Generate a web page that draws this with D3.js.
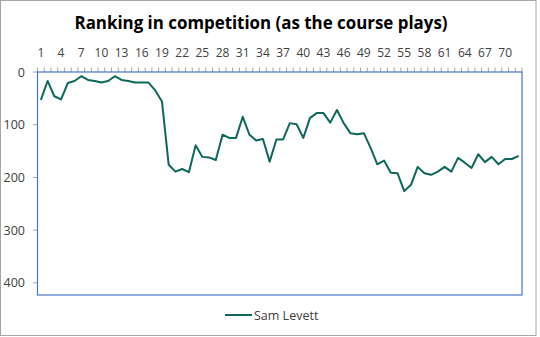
<!DOCTYPE html>
<html>
<head>
<meta charset="utf-8">
<script src="https://cdn.jsdelivr.net/npm/d3@7"></script>
<style>
  html, body { margin: 0; padding: 0; background: #fff; }
  svg { display: block; font-family: "Open Sans", "Noto Sans", sans-serif; }
</style>
</head>
<body>
<svg id="chart" width="540" height="337"></svg>
<script>
// Round-by-round ranking for one player (lower = better)
const holes = d3.range(1, 73);
const ranking = [
  53, 17, 46, 52, 21, 17, 8, 15, 17, 20,
  17, 8, 15, 17, 20, 20, 20, 35, 56, 176,
  189, 184, 190, 139, 161, 162, 167, 119, 125, 125,
  85, 119, 130, 127, 170, 128, 128, 97, 99, 125,
  87, 78, 78, 96, 72, 97, 116, 118, 116, 144,
  175, 168, 191, 192, 226, 214, 180, 192, 195, 189,
  180, 189, 163, 172, 182, 156, 171, 161, 175, 165,
  165, 159
];
const xTickLabels = d3.range(1, 71, 3);
const yTicks = [0, 100, 200, 300, 400];
const yMax = 423;
const seriesName = "Sam Levett";
const titleText = "Ranking in competition (as the course plays)";

const svg = d3.select("#chart");
const plot = { left: 37.5, right: 522, top: 72, bottom: 295 };
const lineColor = "#0d675b";
const frameColor = "#4a74c8";
const tickColor = "#a6a6a6";

// outer chart frame
svg.append("rect")
  .attr("x", 0.5).attr("y", 0.5)
  .attr("width", 535.5).attr("height", 335)
  .attr("fill", "#fff").attr("stroke", "#a5a5a5");

const x = d3.scaleBand().domain(holes).range([plot.left, plot.right]).padding(0);
const y = d3.scaleLinear().domain([0, yMax]).range([plot.top, plot.bottom]);

// title
svg.append("text")
  .attr("x", 261).attr("y", 29)
  .attr("text-anchor", "middle")
  .attr("font-size", 16.9).attr("font-weight", "bold")
  .attr("fill", "#000")
  .text(titleText);

// top category axis: a tick at every band boundary, labels every third hole
const xAxis = svg.append("g");
const edges = holes.map(h => x(h)).concat([plot.right]);
xAxis.selectAll("line.tick").data(edges).join("line")
  .attr("x1", d => d).attr("x2", d => d)
  .attr("y1", plot.top - 4.5).attr("y2", plot.top)
  .attr("stroke", tickColor).attr("stroke-width", 1);
xAxis.selectAll("text").data(xTickLabels).join("text")
  .attr("x", d => x(d) + x.bandwidth() / 2)
  .attr("y", 57)
  .attr("text-anchor", "middle")
  .attr("font-size", 12).attr("fill", "#404040")
  .text(d => d);

// left value axis
const yAxis = svg.append("g");
yAxis.selectAll("line").data(yTicks).join("line")
  .attr("x1", plot.left - 4.5).attr("x2", plot.left)
  .attr("y1", d => y(d)).attr("y2", d => y(d))
  .attr("stroke", tickColor);
yAxis.selectAll("text").data(yTicks).join("text")
  .attr("x", 25).attr("y", d => y(d) + 4.5)
  .attr("text-anchor", "end")
  .attr("font-size", 12.5).attr("fill", "#404040")
  .text(d => d);

// plot area border
svg.append("rect")
  .attr("x", plot.left).attr("y", plot.top)
  .attr("width", plot.right - plot.left).attr("height", plot.bottom - plot.top)
  .attr("fill", "none").attr("stroke", frameColor).attr("stroke-width", 1.2);

// ranking line
const line = d3.line()
  .x((d, i) => x(holes[i]) + x.bandwidth() / 2)
  .y(d => y(d));
svg.append("path")
  .datum(ranking)
  .attr("d", line)
  .attr("fill", "none")
  .attr("stroke", lineColor)
  .attr("stroke-width", 2)
  .attr("stroke-linejoin", "round");

// legend
const lg = svg.append("g");
lg.append("line")
  .attr("x1", 225).attr("x2", 252)
  .attr("y1", 315).attr("y2", 315)
  .attr("stroke", lineColor).attr("stroke-width", 2);
lg.append("text")
  .attr("x", 254).attr("y", 319.5)
  .attr("font-size", 12.5).attr("fill", "#404040")
  .text(seriesName);
</script>
</body>
</html>
